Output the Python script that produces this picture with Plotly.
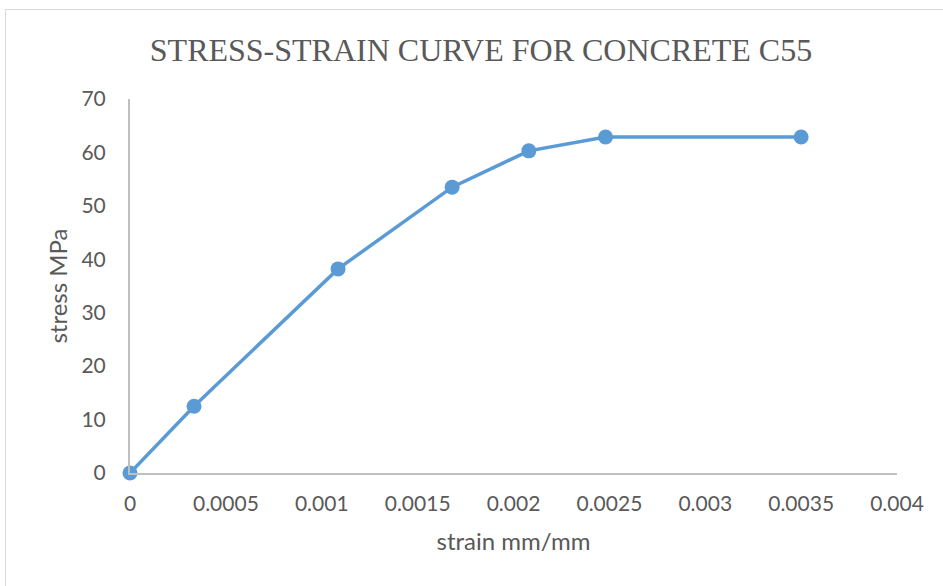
import plotly.graph_objects as go

# Measured stress-strain points for C55 concrete
strain = [0.0, 0.000334, 0.001085, 0.00168, 0.00208, 0.00248, 0.0035]
stress = [0.0, 12.5, 38.2, 53.5, 60.3, 62.9, 62.9]

x_ticks = [0, 0.0005, 0.001, 0.0015, 0.002, 0.0025, 0.003, 0.0035, 0.004]
x_tick_text = ["0", "0.0005", "0.001", "0.0015", "0.002", "0.0025", "0.003", "0.0035", "0.004"]
y_ticks = [0, 10, 20, 30, 40, 50, 60, 70]

LINE_BLUE = "#5B9BD5"
TEXT_GREY = "#595959"
AXIS_GREY = "#BFBFBF"

fig = go.Figure(
    go.Scatter(
        x=strain,
        y=stress,
        mode="lines+markers",
        line=dict(color=LINE_BLUE, width=3.5),
        marker=dict(color=LINE_BLUE, size=15),
        cliponaxis=False,
        showlegend=False,
    )
)

fig.update_layout(
    width=943,
    height=586,
    margin=dict(l=130, r=46, t=99, b=113),
    paper_bgcolor="white",
    plot_bgcolor="white",
    title=dict(
        text="STRESS-STRAIN CURVE FOR CONCRETE C55",
        font=dict(family="Liberation Serif", size=32, color=TEXT_GREY),
        x=481 / 943,
        xanchor="center",
        xref="container",
        y=1 - 50 / 586,
        yanchor="middle",
    ),
    font=dict(family="Lato", size=21, color=TEXT_GREY),
    shapes=[
        dict(
            type="rect",
            xref="paper",
            yref="paper",
            x0=-124.5 / 767,
            x1=1.2,
            y0=-0.5,
            y1=(473 - 9.5) / 374,
            line=dict(color="#D9D9D9", width=1),
            layer="below",
        )
    ],
)

fig.update_xaxes(
    range=[0, 0.004],
    tickvals=x_ticks,
    ticktext=x_tick_text,
    showgrid=False,
    zeroline=False,
    showline=True,
    linecolor=AXIS_GREY,
    linewidth=2,
    ticks="",
    ticklabelstandoff=11,
    tickfont=dict(family="Lato", size=21, color=TEXT_GREY),
    title=dict(text="strain mm/mm", font=dict(family="Lato", size=24, color=TEXT_GREY), standoff=19),
)

fig.update_yaxes(
    range=[0, 70],
    tickvals=y_ticks,
    showgrid=False,
    zeroline=False,
    showline=True,
    linecolor=AXIS_GREY,
    linewidth=2,
    ticks="",
    ticklabelstandoff=18,
    tickfont=dict(family="Lato", size=21, color=TEXT_GREY),
    title=dict(text="stress MPa", font=dict(family="Lato", size=24, color=TEXT_GREY), standoff=7),
)

fig.write_html("out.html")
